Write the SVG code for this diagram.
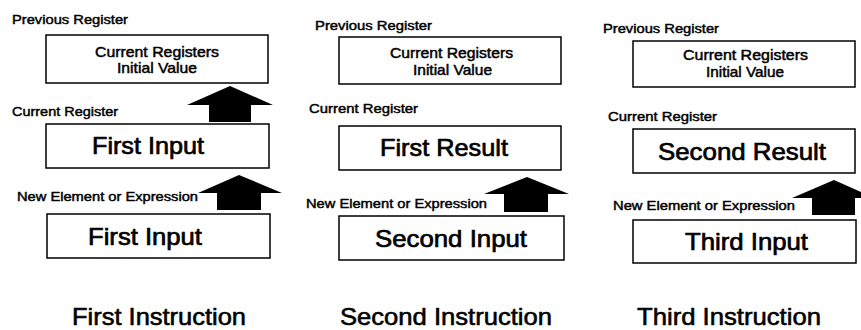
<svg xmlns="http://www.w3.org/2000/svg" width="861" height="330" viewBox="0 0 861 330">
<style>
.box{fill:#fff;stroke:#000;stroke-width:1.5}
.t{font-family:"Liberation Sans",Arial,Helvetica,sans-serif;fill:#000;stroke:#000;stroke-linejoin:round}
.s{font-size:12.5px;stroke-width:0.45}
.m{font-size:15px;stroke-width:0.5}
.b{font-size:24px;stroke-width:0.7}
.h{font-size:24px;stroke-width:0.6}
.arrow{fill:#000;stroke:none}
</style>
<rect width="861" height="330" fill="#fff"/>

<!-- Panel 1 -->
<g id="p1-prev-label"><text class="t s" x="12" y="24" textLength="116" lengthAdjust="spacingAndGlyphs">Previous Register</text></g>
<g id="p1-prev"><rect class="box" x="46" y="35" width="222" height="48"/>
<text class="t m" x="95" y="56.5" textLength="124" lengthAdjust="spacingAndGlyphs">Current Registers</text>
<text class="t m" x="117" y="72.5" textLength="80" lengthAdjust="spacingAndGlyphs">Initial Value</text></g>
<g id="p1-cur-label"><text class="t s" x="12" y="116" textLength="106" lengthAdjust="spacingAndGlyphs">Current Register</text></g>
<g id="p1-cur"><rect class="box" x="46" y="124" width="223" height="44"/>
<text class="t b" x="92" y="153.5" textLength="112" lengthAdjust="spacingAndGlyphs">First Input</text></g>
<g id="p1-new-label"><text class="t s" x="17" y="201" textLength="181" lengthAdjust="spacingAndGlyphs">New Element or Expression</text></g>
<g id="p1-new"><rect class="box" x="47" y="214" width="223" height="44"/>
<text class="t b" x="88" y="244.5" textLength="114" lengthAdjust="spacingAndGlyphs">First Input</text></g>
<g id="p1-title"><text class="t h" x="72" y="325" textLength="174" lengthAdjust="spacingAndGlyphs">First Instruction</text></g>

<!-- Panel 2 -->
<g id="p2-prev-label"><text class="t s" x="315" y="29.5" textLength="117" lengthAdjust="spacingAndGlyphs">Previous Register</text></g>
<g id="p2-prev"><rect class="box" x="339" y="37" width="222" height="47"/>
<text class="t m" x="390" y="58" textLength="123" lengthAdjust="spacingAndGlyphs">Current Registers</text>
<text class="t m" x="413" y="74.5" textLength="79" lengthAdjust="spacingAndGlyphs">Initial Value</text></g>
<g id="p2-cur-label"><text class="t s" x="309" y="112.5" textLength="109" lengthAdjust="spacingAndGlyphs">Current Register</text></g>
<g id="p2-cur"><rect class="box" x="339" y="126" width="222" height="44"/>
<text class="t b" x="380" y="156" textLength="128" lengthAdjust="spacingAndGlyphs">First Result</text></g>
<g id="p2-new-label"><text class="t s" x="306" y="207.5" textLength="181" lengthAdjust="spacingAndGlyphs">New Element or Expression</text></g>
<g id="p2-new"><rect class="box" x="339" y="216" width="225" height="44"/>
<text class="t b" x="375" y="246.5" textLength="152" lengthAdjust="spacingAndGlyphs">Second Input</text></g>
<g id="p2-title"><text class="t h" x="340" y="325" textLength="212" lengthAdjust="spacingAndGlyphs">Second Instruction</text></g>

<!-- Panel 3 -->
<g id="p3-prev-label"><text class="t s" x="603" y="32.5" textLength="116" lengthAdjust="spacingAndGlyphs">Previous Register</text></g>
<g id="p3-prev"><rect class="box" x="633" y="41" width="222" height="46"/>
<text class="t m" x="683" y="60" textLength="125" lengthAdjust="spacingAndGlyphs">Current Registers</text>
<text class="t m" x="706" y="76.5" textLength="78" lengthAdjust="spacingAndGlyphs">Initial Value</text></g>
<g id="p3-cur-label"><text class="t s" x="608" y="121" textLength="109" lengthAdjust="spacingAndGlyphs">Current Register</text></g>
<g id="p3-cur"><rect class="box" x="633" y="129" width="222" height="44"/>
<text class="t b" x="658" y="159.5" textLength="168" lengthAdjust="spacingAndGlyphs">Second Result</text></g>
<g id="p3-new-label"><text class="t s" x="613" y="209.5" textLength="182" lengthAdjust="spacingAndGlyphs">New Element or Expression</text></g>
<g id="p3-new"><rect class="box" x="633" y="220" width="223" height="43"/>
<text class="t b" x="685" y="250" textLength="123" lengthAdjust="spacingAndGlyphs">Third Input</text></g>
<g id="p3-title"><text class="t h" x="637" y="325" textLength="184" lengthAdjust="spacingAndGlyphs">Third Instruction</text></g>

<!-- Connectors: block arrows -->
<g id="connectors">
<polygon class="arrow" points="230,86 273,105 251,105 251,122 209,122 209,105 187,105"/>
<polygon class="arrow" points="239,175 282,193 261,193 261,210 217,210 217,193 198,193"/>
<polygon class="arrow" points="527,177 569,194 548,194 548,212 504,212 504,194 484,194"/>
<polygon class="arrow" points="834,180 863,193 863,198 855,198 855,215 812,215 812,198 792,198"/>
</g>
</svg>
